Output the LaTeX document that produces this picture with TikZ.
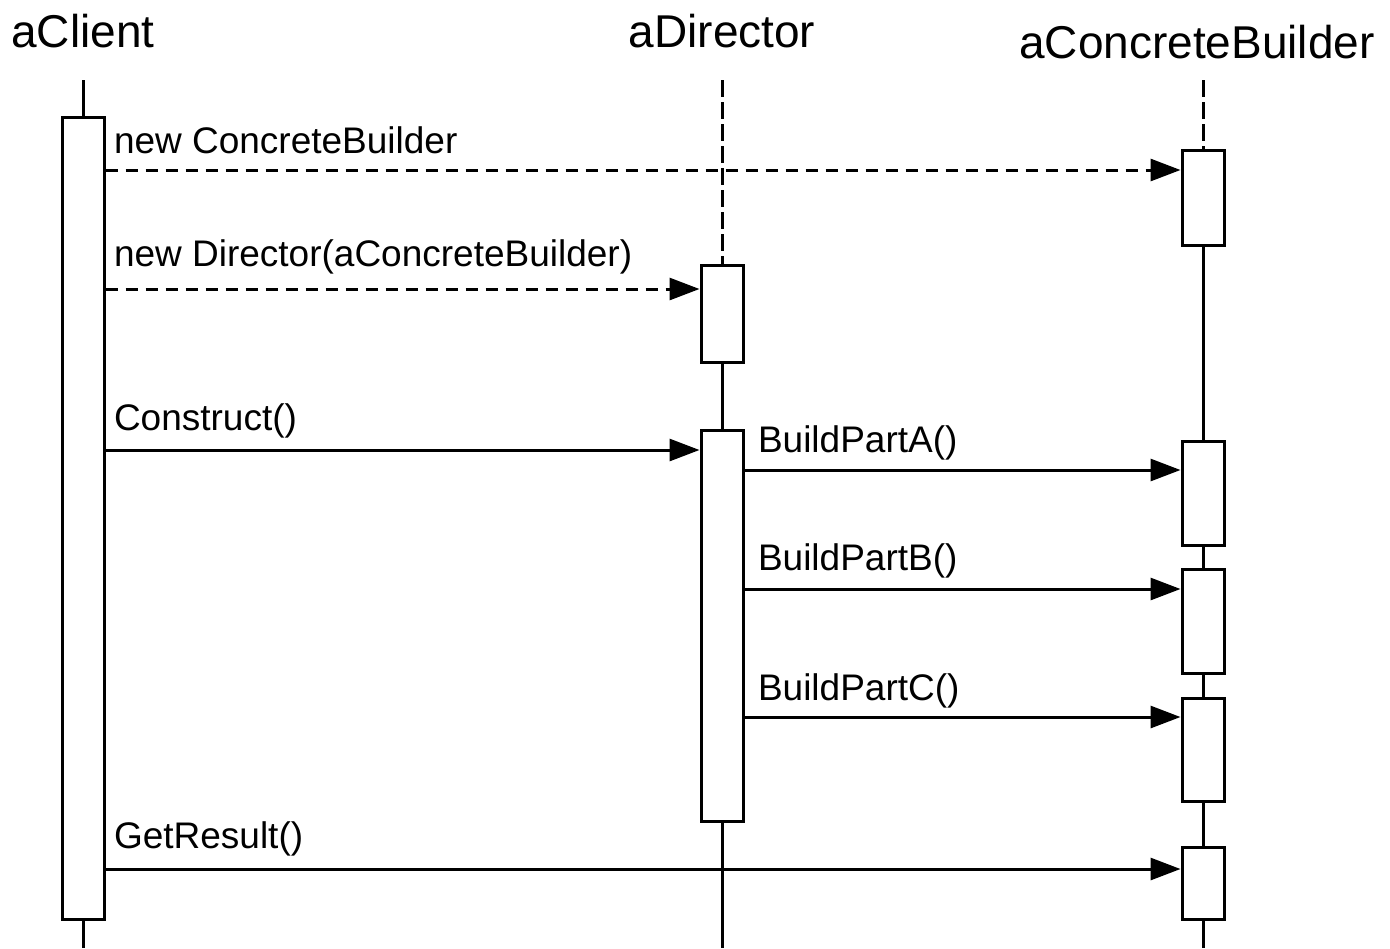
\documentclass[tikz,border=0pt]{standalone}
\usepackage{fontspec}
\setmainfont{Liberation Sans}
\usetikzlibrary{positioning}
\usetikzlibrary{arrows.meta}
\usetikzlibrary{calc}

\begin{document}
\begin{tikzpicture}[x=0.5pt,y=-0.5pt,
	box/.style={draw, fill=white, line width=1.5pt, inner sep=0pt, minimum width=21pt, anchor=north},
	life/.style={line width=1.5pt},
	dlife/.style={life, dash pattern=on 8.5pt off 2.5pt},
	msg/.style={line width=1.5pt, -{Triangle[length=15pt,width=11pt]}},
	dmsg/.style={msg, dash pattern=on 6pt off 4pt},
	head/.style={font=\fontsize{23}{27}\selectfont, anchor=base, inner sep=0pt},
	lbl/.style={font=\fontsize{18.5}{22}\selectfont, anchor=base west, inner sep=0pt, pos=0, yshift=10pt}]
			\useasboundingbox (0,0) rectangle (1390,948);

			% Object names
			\node[head] (client) at (83,47) {aClient};
			\node[head] (director) at (722,47) {aDirector};
			\node[head] (builder) at (1197,58) {aConcreteBuilder};

			% Ends of the lifelines
			\coordinate (clientTop) at (83,80);
			\coordinate (directorTop) at (722,80);
			\coordinate (builderTop) at (1203,80);
			\coordinate (clientEnd) at (83,948);
			\coordinate (directorEnd) at (722,948);
			\coordinate (builderEnd) at (1203,948);

			% Activation bars
			\foreach \name/\x/\top/\bot in {c1/83/116/918, d1/722/264/361, d2/722/429/820,
				b1/1203/149/244, b2/1203/440/544, b3/1203/568/672, b4/1203/697/800, b5/1203/846/918}
				{\pgfmathsetmacro\h{(\bot-\top)*0.5}
				\node[box, minimum height=\h pt] (\name) at (\x,\top) {};}

			\draw[life] (clientTop) -- (c1) (c1) -- (clientEnd);
			\draw[dlife] (directorTop) -- (d1);
			\draw[life] (d1) -- (d2) (d2) -- (directorEnd);
			\draw[dlife] (builderTop) -- (b1);
			\draw[life] (b1) -- (b2) (b2) -- (b3) (b3) -- (b4) (b4) -- (b5) (b5) -- (builderEnd);

			% Heights of the messages
			\foreach \i/\y in {1/170, 2/289, 3/450, 4/470, 5/589, 6/717, 7/869}
				{\coordinate (m\i) at (0,\y);}

			\draw[dmsg] (c1.east |- m1) -- (b1.west |- m1) node[lbl, xshift=3.5pt, yshift=-1.5pt] {new ConcreteBuilder};
			\draw[dmsg] (c1.east |- m2) -- (d1.west |- m2) node[lbl, xshift=3.5pt, yshift=1.5pt] {new Director(aConcreteBuilder)};
			\draw[msg] (c1.east |- m3) -- (d2.west |- m3) node[lbl, xshift=3.5pt] {Construct()};
			\draw[msg] (d2.east |- m4) -- (b2.west |- m4) node[lbl, xshift=6pt, yshift=-1pt] {BuildPartA()};
			\draw[msg] (d2.east |- m5) -- (b3.west |- m5) node[lbl, xshift=6pt, yshift=-0.5pt] {BuildPartB()};
			\draw[msg] (d2.east |- m6) -- (b4.west |- m6) node[lbl, xshift=6pt, yshift=-1.5pt] {BuildPartC()};
			\draw[msg] (c1.east |- m7) -- (b5.west |- m7) node[lbl, xshift=3.5pt, yshift=0.5pt] {GetResult()};
		\end{tikzpicture}
\end{document}
